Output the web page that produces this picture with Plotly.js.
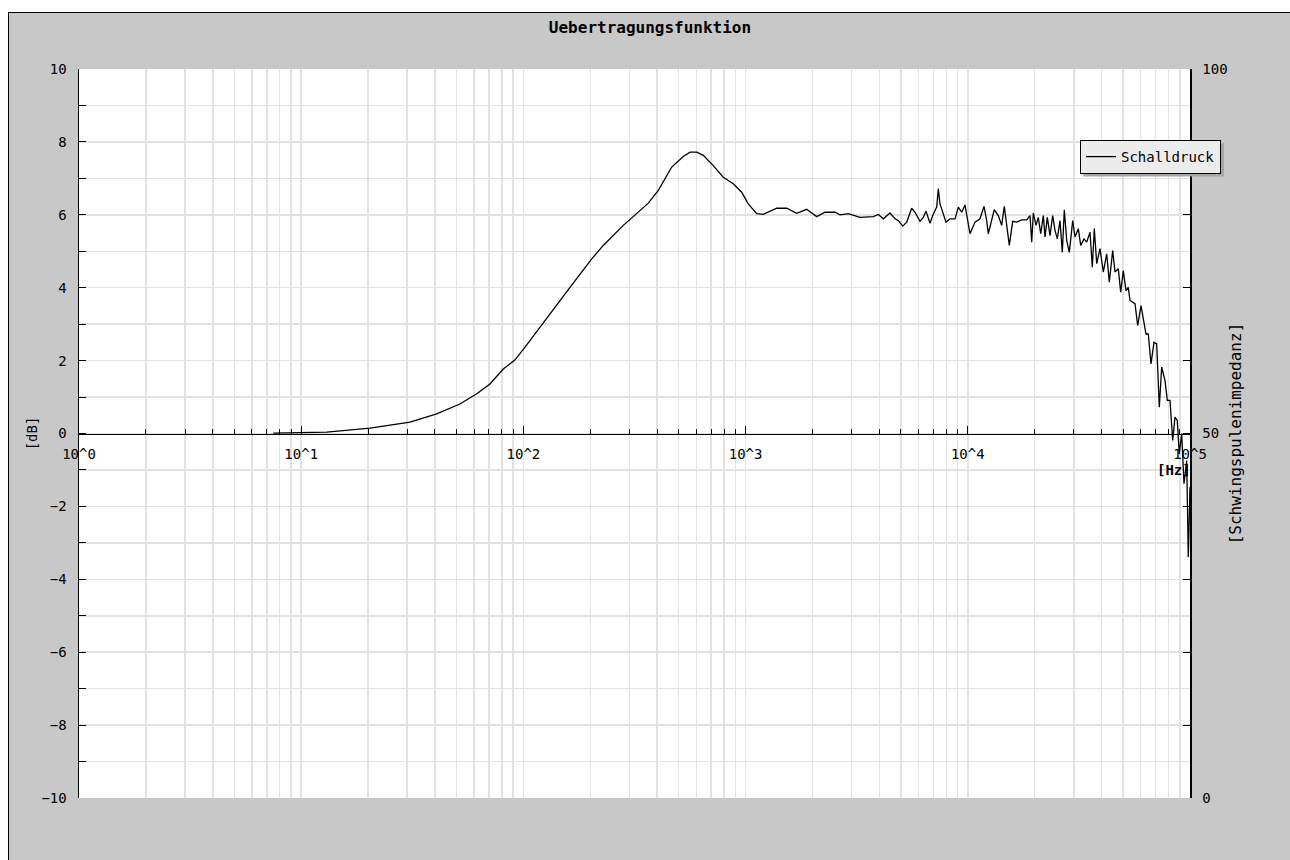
<!DOCTYPE html>
<html>
<head>
<meta charset="utf-8">
<script src="https://cdn.plot.ly/plotly-3.0.1.min.js"></script>
<style>
  html, body { margin: 0; padding: 0; background: #ffffff; width: 1290px; height: 860px; overflow: hidden; }
  #frame { position: absolute; left: 8px; top: 12px; width: 1282px; height: 848px;
           border-left: 1px solid #000; border-top: 1px solid #000; background: #c8c8c8; }
  #chart { width: 1282px; height: 848px; }
</style>
</head>
<body>
<div id="frame"><div id="chart"></div></div>
<script>
// ---- data ----
const freqHz = [
  7.49, 9.88, 13.03, 20.4, 30.9, 40.7, 51.8, 61.7, 70.7, 81.2, 91.7, 101.7, 118.8, 136.3, 153.9, 162.1,
  203.0, 228.8, 281.6, 323.6, 364.9, 404.8, 465.1, 524.4, 562.2, 602.6, 645.0, 715.4, 793.4, 880.3, 960.3,
  1028, 1122, 1201, 1380, 1531, 1698, 1884, 2089, 2277, 2526, 2659, 2899,
  3272, 3508, 3756, 3958, 4167, 4466, 4704, 4868, 5095, 5311, 5591, 5786, 6094, 6305, 6484, 6758, 6994,
  7245, 7366, 7496, 7710, 7978, 8317, 8760, 9064, 9389, 9714, 9949, 10230, 10775, 11348, 11829, 12162,
  12366, 12805, 13155, 13714, 14206, 14594, 14962, 15373, 15924, 16598, 17480, 18414, 19052, 19393, 19717,
  20278, 20765, 21288, 21870, 22261, 22796, 23442, 24105, 24688, 25282, 26002, 26627, 27185, 27870, 28631,
  29658, 30376, 31430, 32221, 33343, 34286, 35481, 36334, 37095, 38030, 39355, 40720, 42179, 43331, 44884,
  45970, 47566, 48764, 50096, 51522, 52759, 53703, 56558, 58158, 60183, 61628, 63384, 64904, 66752, 68865,
  70812, 72748, 74585, 77186, 79040, 81283, 83580, 85603, 87661, 89496, 91749, 93972, 96622, 98243, 100000
];
const schalldruckDb = [
  0.01, 0.03, 0.04, 0.15, 0.31, 0.54, 0.81, 1.09, 1.36, 1.77, 2.02, 2.37, 2.92, 3.42, 3.83, 4.01,
  4.79, 5.16, 5.71, 6.03, 6.32, 6.67, 7.31, 7.60, 7.72, 7.72, 7.63, 7.35, 7.03, 6.85, 6.62,
  6.30, 6.03, 6.01, 6.18, 6.18, 6.04, 6.15, 5.95, 6.07, 6.07, 6.00, 6.03,
  5.93, 5.93, 5.95, 6.01, 5.89, 6.05, 5.89, 5.84, 5.69, 5.80, 6.18, 6.07, 5.82, 5.93, 6.10, 5.77, 6.02,
  6.21, 6.71, 6.30, 6.07, 5.80, 5.89, 5.89, 6.21, 6.07, 6.27, 5.93, 5.48, 5.80, 5.89, 6.23, 5.84,
  5.48, 5.84, 6.14, 5.98, 5.71, 6.23, 5.75, 5.16, 5.82, 5.80, 5.86, 5.86, 5.98, 5.25, 6.05,
  5.71, 5.93, 5.48, 5.98, 5.39, 5.93, 5.43, 5.98, 5.57, 5.34, 5.84, 4.97, 6.14, 5.30, 4.97,
  5.84, 5.39, 5.62, 5.16, 5.34, 5.25, 5.52, 4.56, 5.62, 4.66, 5.07, 4.43, 4.93, 4.15, 5.02,
  4.43, 4.52, 3.88, 4.47, 3.92, 4.01, 3.65, 3.56, 2.96, 3.51, 3.19, 2.73, 2.73, 1.91, 2.50,
  2.46, 0.72, 1.82, 1.45, 0.91, 0.91, -0.19, 0.45, 0.36, -0.56, 0.00, -1.38, -0.74, -3.39, -1.47
];

const decadeTicks  = [1, 10, 100, 1000, 10000, 100000];
const decadeLabels = ['10^0', '10^1', '10^2', '10^3', '10^4', '10^5'];
const minorFreqTicks = [
  2, 3, 4, 5, 6, 7, 8, 9,
  20, 30, 40, 50, 60, 70, 80, 90,
  200, 300, 400, 500, 600, 700, 800, 900,
  2000, 3000, 4000, 5000, 6000, 7000, 8000, 9000,
  20000, 30000, 40000, 50000, 60000, 70000, 80000, 90000
];
const dbTickVals  = [-10, -8, -6, -4, -2, 0, 2, 4, 6, 8, 10];
const dbMinorVals = [-9, -7, -5, -3, -1, 1, 3, 5, 7, 9];
const impTickVals = [0, 10, 20, 30, 40, 50, 60, 70, 80, 90, 100];
const impTickText = ['0', '', '', '', '', '50', '', '', '', '', '100'];

const FONT = '"DejaVu Sans Mono", "Liberation Mono", monospace';
const GRID = '#e2e2e2';

const traces = [
  {
    x: freqHz, y: schalldruckDb, type: 'scatter', mode: 'lines',
    name: 'Schalldruck', xaxis: 'x', yaxis: 'y',
    line: { color: '#000000', width: 1.3 },
    hoverinfo: 'x+y'
  },
  {
    x: [], y: [], type: 'scatter', mode: 'lines', xaxis: 'x', yaxis: 'y2',
    showlegend: false, hoverinfo: 'skip'
  }
];

const layout = {
  width: 1282, height: 848,
  margin: { l: 70, r: 101, t: 56, b: 63 },
  paper_bgcolor: '#c8c8c8',
  plot_bgcolor: '#ffffff',
  font: { family: FONT, size: 13, color: '#000000' },
  title: {
    text: '<b>Uebertragungsfunktion</b>',
    font: { family: FONT, size: 16, color: '#000000' },
    x: 0.5, xref: 'container', xanchor: 'center',
    y: 0.9835, yref: 'container', yanchor: 'middle'
  },
  showlegend: true,
  legend: {
    x: 0.901, y: 0.9026, xanchor: 'left', yanchor: 'top',
    bgcolor: '#ececec', bordercolor: '#000000', borderwidth: 1,
    font: { family: FONT, size: 14, color: '#000000' },
    itemwidth: 30
  },
  shapes: [
    { type: 'rect', xref: 'paper', yref: 'paper', layer: 'above',
      x0: 0.9040, x1: 1.0306, y0: 0.8525, y1: 0.8985,
      fillcolor: '#a6a6a6', line: { width: 0 } }
  ],
  xaxis: {
    type: 'log', range: [0, 5],
    anchor: 'free', position: 0.5,
    tickmode: 'array', tickvals: decadeTicks, ticktext: decadeLabels,
    ticks: 'inside', ticklen: 8, tickwidth: 1, tickcolor: '#000000',
    showline: true, linecolor: '#000000', linewidth: 1.5,
    showgrid: true, gridcolor: GRID, gridwidth: 1.5,
    tickfont: { family: FONT, size: 14, color: '#000000' },
    ticklabelstandoff: 7,
    minor: { tickmode: 'array', tickvals: minorFreqTicks, ticks: 'inside', ticklen: 5,
             tickcolor: '#000000', tickwidth: 1, showgrid: true, gridcolor: GRID, gridwidth: 1.5 },
    zeroline: false, fixedrange: true
  },
  yaxis: {
    range: [-10, 10],
    tickmode: 'array', tickvals: dbTickVals,
    ticks: 'inside', ticklen: 7, tickwidth: 1, tickcolor: '#000000',
    showline: true, linecolor: '#000000', linewidth: 1.5,
    showgrid: true, gridcolor: GRID, gridwidth: 1.5,
    tickfont: { family: FONT, size: 14, color: '#000000' },
    ticklabelstandoff: 8,
    minor: { tickmode: 'array', tickvals: dbMinorVals, ticks: 'inside', ticklen: 7,
             tickcolor: '#000000', tickwidth: 1, showgrid: true, gridcolor: GRID, gridwidth: 1.5 },
    zeroline: false,
    title: { text: '[dB]', font: { family: FONT, size: 14, color: '#000000' }, standoff: 0 },
    automargin: false, fixedrange: true
  },
  yaxis2: {
    overlaying: 'y', side: 'right', anchor: 'x',
    range: [0, 100],
    tickmode: 'array', tickvals: impTickVals, ticktext: impTickText,
    ticks: 'inside', ticklen: 7, tickwidth: 1, tickcolor: '#000000',
    showline: true, linecolor: '#000000', linewidth: 1.5,
    showgrid: false, zeroline: false,
    tickfont: { family: FONT, size: 14, color: '#000000' },
    ticklabelstandoff: 8,
    title: { text: '[Schwingspulenimpedanz]', font: { family: FONT, size: 16, color: '#000000' }, standoff: 3 },
    automargin: false, fixedrange: true
  },
  annotations: [
    {
      text: '<b>[Hz]</b>', xref: 'paper', yref: 'paper', x: 1.003, y: 0.5,
      xanchor: 'right', yanchor: 'top', yshift: -26, showarrow: false,
      font: { family: FONT, size: 14, color: '#000000' }
    }
  ]
};

Plotly.newPlot('chart', traces, layout, { displayModeBar: false, staticPlot: true });
</script>
</body>
</html>
